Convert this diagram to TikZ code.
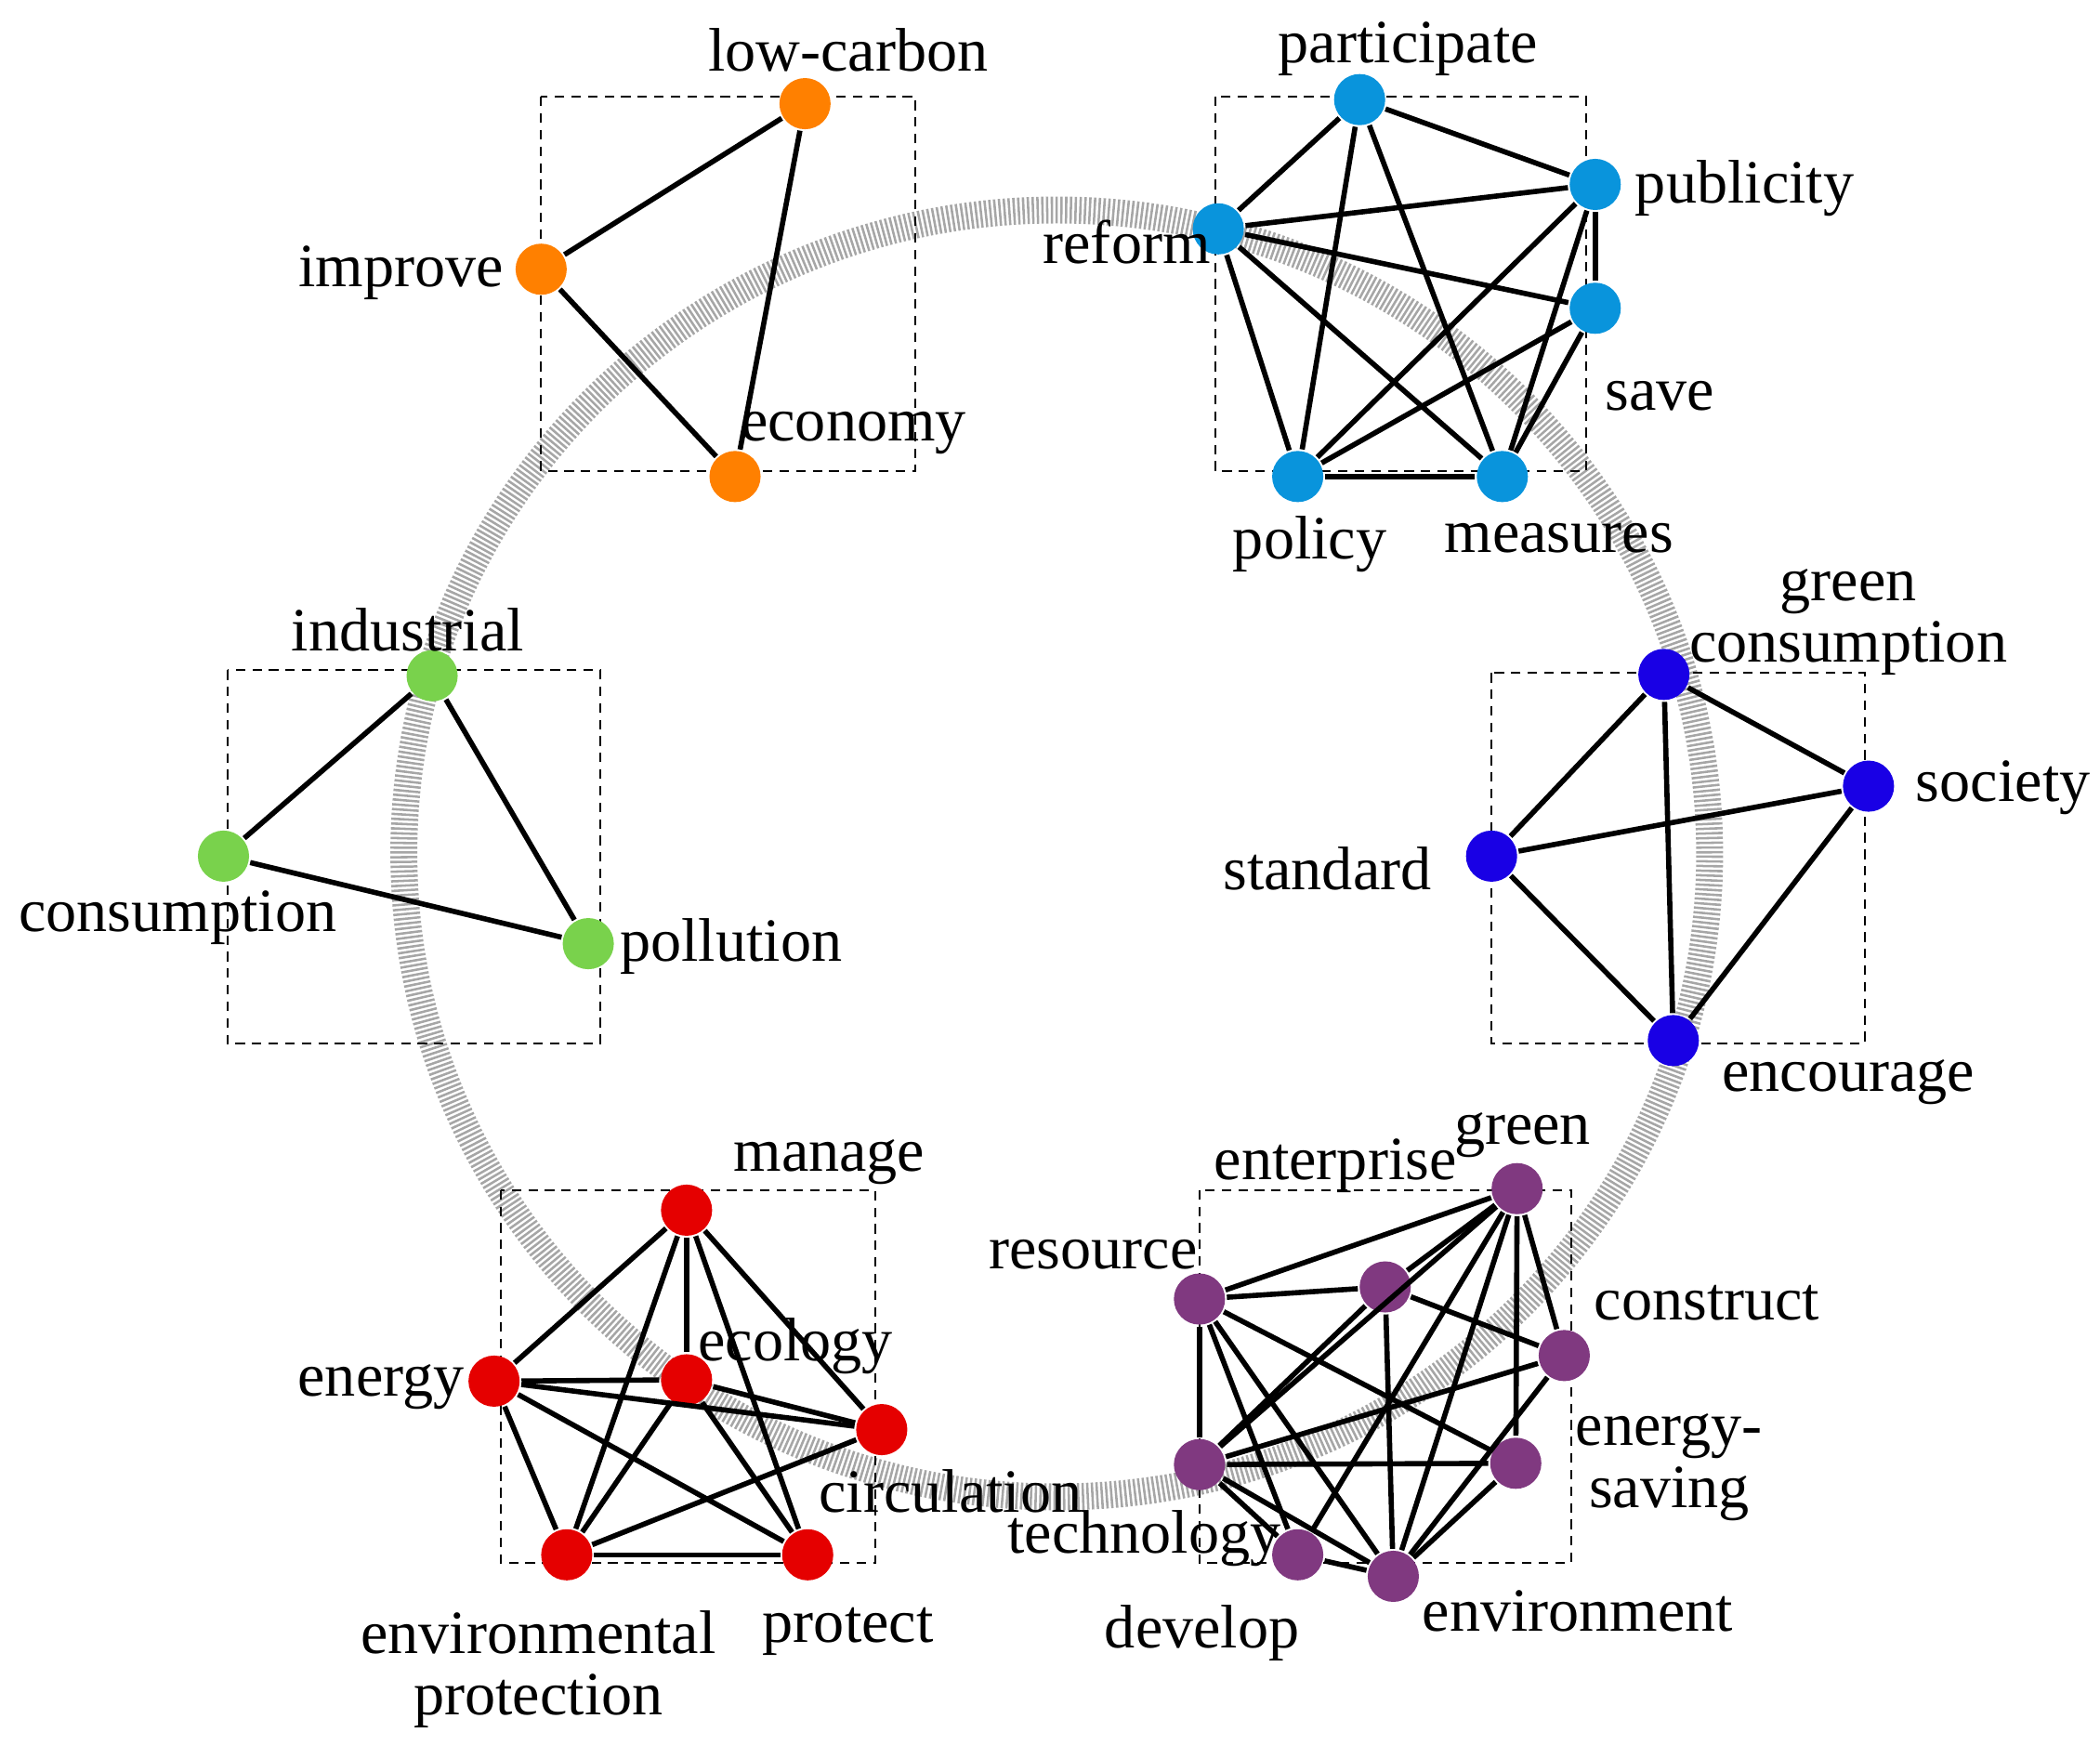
\documentclass[tikz,border=0pt]{standalone}
\usepackage{fontspec}
\setmainfont{Liberation Serif}
\usetikzlibrary{positioning}

\begin{document}
\begin{tikzpicture}[thick]
    \tikzstyle{kw} = [circle, inner sep=0pt, minimum size=0.38cm]
    \tikzstyle{lbl} = [font=\fontsize{13}{13}\selectfont, align=center, inner sep=1pt]
    \tikzstyle{frame} = [draw, thin, dashed, dash pattern=on 2pt off 1.5pt]
    \tikzstyle{edge} = [line width=1.1pt]
    \useasboundingbox (0,0) rectangle (15.6,-12.96);

    % ring
    \draw [gray!70, line width=0.2cm, dash pattern=on 0.5pt off 0.5pt] (7.85,-6.34) ellipse (4.85cm and 4.78cm);

    % frames
    \draw [frame] (4.02,-0.72) rectangle (6.80,-3.50);
    \draw [frame] (9.03,-0.72) rectangle (11.78,-3.50);
    \draw [frame] (1.69,-4.98) rectangle (4.46,-7.75);
    \draw [frame] (11.08,-5.00) rectangle (13.85,-7.75);
    \draw [frame] (3.72,-8.84) rectangle (6.50,-11.61);
    \draw [frame] (8.91,-8.84) rectangle (11.67,-11.61);

    % orange group
    \node [kw, fill=orange] (lowcarbon) at (5.98,-0.77) {};
    \node [kw, fill=orange] (improve) at (4.02,-2.00) {};
    \node [kw, fill=orange] (economy) at (5.46,-3.54) {};
    \draw [edge] (improve) -- (lowcarbon);
    \draw [edge] (lowcarbon) -- (economy);
    \draw [edge] (improve) -- (economy);
    \node [lbl] (tlowcarbon) at (6.30,-0.37) {low-carbon};
    \node [lbl] (timprove) at (2.98,-2.03) {improve};
    \node [lbl] (teconomy) at (6.34,-3.22) {economy};

    % blue group
    \node [kw, fill=cyan!80!blue] (participate) at (10.10,-0.74) {};
    \node [kw, fill=cyan!80!blue] (publicity) at (11.85,-1.37) {};
    \node [kw, fill=cyan!80!blue] (reform) at (9.05,-1.70) {};
    \node [kw, fill=cyan!80!blue] (save) at (11.85,-2.29) {};
    \node [kw, fill=cyan!80!blue] (policy) at (9.64,-3.54) {};
    \node [kw, fill=cyan!80!blue] (measures) at (11.16,-3.54) {};
    \foreach \a/\b in {reform/participate, participate/publicity, reform/publicity, reform/save,
        reform/measures, reform/policy, participate/policy, participate/measures,
        publicity/policy, publicity/measures, publicity/save, save/policy, save/measures, policy/measures}
        \draw [edge] (\a) -- (\b);
    \node [lbl] (tparticipate) at (10.46,-0.36) {participate};
    \node [lbl] (tpublicity) at (12.96,-1.40) {publicity};
    \node [lbl] (treform) at (8.37,-1.80) {reform};
    \node [lbl] (tsave) at (12.33,-2.94) {save};
    \node [lbl] (tpolicy) at (9.73,-4.04) {policy};
    \node [lbl] (tmeasures) at (11.58,-4.00) {measures};

    % green group
    \node [kw, fill=green!50!olive!70] (industrial) at (3.21,-5.02) {};
    \node [kw, fill=green!50!olive!70] (consumption) at (1.66,-6.36) {};
    \node [kw, fill=green!50!olive!70] (pollution) at (4.37,-7.01) {};
    \draw [edge] (industrial) -- (consumption);
    \draw [edge] (industrial) -- (pollution);
    \draw [edge] (consumption) -- (pollution);
    \node [lbl] (tindustrial) at (3.03,-4.68) {industrial};
    \node [lbl] (tconsumption) at (1.32,-6.82) {consumption};
    \node [lbl] (tpollution) at (5.43,-7.03) {pollution};

    % dark blue group
    \node [kw, fill=blue!80!violet] (greencons) at (12.36,-5.01) {};
    \node [kw, fill=blue!80!violet] (society) at (13.88,-5.84) {};
    \node [kw, fill=blue!80!violet] (standard) at (11.08,-6.36) {};
    \node [kw, fill=blue!80!violet] (encourage) at (12.43,-7.73) {};
    \foreach \a/\b in {greencons/society, greencons/standard, greencons/encourage,
        standard/society, standard/encourage, society/encourage}
        \draw [edge] (\a) -- (\b);
    \node [lbl] (tgreencons) at (13.73,-4.62) {green\\consumption};
    \node [lbl] (tsociety) at (14.88,-5.85) {society};
    \node [lbl] (tstandard) at (9.86,-6.45) {standard};
    \node [lbl] (tencourage) at (13.73,-8.04) {encourage};

    % red group
    \node [kw, fill=red!90!black] (manage) at (5.10,-8.99) {};
    \node [kw, fill=red!90!black] (energy) at (3.67,-10.26) {};
    \node [kw, fill=red!90!black] (ecology) at (5.10,-10.25) {};
    \node [kw, fill=red!90!black] (circulation) at (6.55,-10.62) {};
    \node [kw, fill=red!90!black] (envprot) at (4.21,-11.55) {};
    \node [kw, fill=red!90!black] (protect) at (6.00,-11.55) {};
    \foreach \a/\b in {manage/energy, manage/ecology, manage/envprot, manage/protect,
        manage/circulation, energy/ecology, energy/circulation, energy/envprot, energy/protect,
        ecology/envprot, ecology/protect, ecology/circulation, envprot/circulation, envprot/protect}
        \draw [edge] (\a) -- (\b);
    \node [lbl] (tmanage) at (6.16,-8.63) {manage};
    \node [lbl] (tenergy) at (2.83,-10.30) {energy};
    \node [lbl] (tecology) at (5.91,-10.00) {ecology};
    \node [lbl] (tcirculation) at (7.06,-11.08) {circulation};
    \node [lbl] (tenvprot) at (4.00,-12.40) {environmental\\protection};
    \node [lbl] (tprotect) at (6.30,-12.12) {protect};

    % purple group
    \node [kw, fill=violet!55!gray] (green) at (11.27,-8.83) {};
    \node [kw, fill=violet!55!gray] (resource) at (8.91,-9.65) {};
    \node [kw, fill=violet!55!gray] (enterprise) at (10.29,-9.56) {};
    \node [kw, fill=violet!55!gray] (construct) at (11.62,-10.07) {};
    \node [kw, fill=violet!55!gray] (energysaving) at (11.26,-10.87) {};
    \node [kw, fill=violet!55!gray] (technology) at (8.91,-10.88) {};
    \node [kw, fill=violet!55!gray] (develop) at (9.64,-11.55) {};
    \node [kw, fill=violet!55!gray] (environment) at (10.35,-11.71) {};
    \foreach \a/\b in {resource/green, resource/enterprise, resource/energysaving, resource/technology,
        resource/develop, resource/environment, enterprise/green, enterprise/technology,
        enterprise/environment, enterprise/construct, green/technology, green/develop,
        green/environment, green/construct, green/energysaving, construct/technology,
        construct/environment, technology/energysaving, technology/develop,
        technology/environment, develop/environment, energysaving/environment}
        \draw [edge] (\a) -- (\b);
    \node [lbl] (tenterprise) at (9.92,-8.66) {enterprise};
    \node [lbl] (tgreen) at (11.31,-8.43) {green};
    \node [lbl] (tresource) at (8.12,-9.32) {resource};
    \node [lbl] (tconstruct) at (12.68,-9.68) {construct};
    \node [lbl] (tenergysaving) at (12.40,-10.90) {energy-\\saving};
    \node [lbl] (ttechnology) at (8.50,-11.43) {technology};
    \node [lbl] (tdevelop) at (8.93,-12.13) {develop};
    \node [lbl] (tenvironment) at (11.72,-11.97) {environment};
\end{tikzpicture}
\end{document}
